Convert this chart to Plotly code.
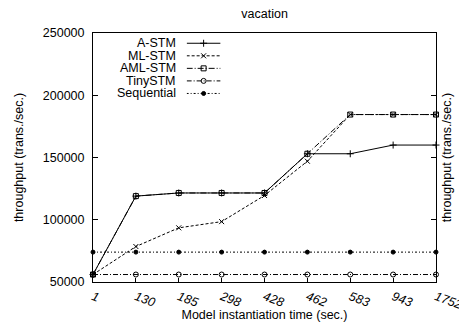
import plotly.graph_objects as go

# Model instantiation times (categorical x positions)
categories = ["1", "130", "185", "298", "428", "462", "583", "943", "1752"]

# Throughput (trans./sec.) per configuration
a_stm = [56000, 119000, 121500, 121500, 121500, 153000, 153000, 160000, 160000]
ml_stm = [56000, 78500, 93500, 98500, 119500, 147000, 184500, 184500, 184500]
aml_stm = [56000, 119000, 121500, 121500, 121500, 153000, 184500, 184500, 184500]
tiny_stm = [56000, 56000, 56000, 56000, 56000, 56000, 56000, 56000, 56000]
sequential = [74000, 74000, 74000, 74000, 74000, 74000, 74000, 74000, 74000]

series_names = ["A-STM", "ML-STM", "AML-STM", "TinySTM", "Sequential"]
series_values = [a_stm, ml_stm, aml_stm, tiny_stm, sequential]

FONT = "Liberation Sans, Arial, Helvetica, sans-serif"
INK = "#000000"
FS = 12.5

styles = [
    dict(dash="solid", symbol="cross-thin-open", size=5),
    dict(dash="3px,2px", symbol="x-thin-open", size=5),
    dict(dash="6px,2px,1px,2px", symbol="square-open", size=5),
    dict(dash="5px,2px,1px,2px", symbol="circle-open", size=5),
    dict(dash="2px,2px,1px,2px", symbol="circle", size=4),
]

fig = go.Figure()

for name, vals, st in zip(series_names, series_values, styles):
    fig.add_trace(go.Scatter(
        x=categories, y=vals, name=name, mode="lines+markers",
        line=dict(color=INK, width=1, dash=st["dash"]),
        marker=dict(symbol=st["symbol"], size=st["size"], color=INK,
                    line=dict(color=INK, width=1)),
        showlegend=False, cliponaxis=False,
    ))

# Key: sample segments drawn on a small auxiliary axis pair, labels to their left
for row, (name, st) in enumerate(zip(series_names, styles)):
    fig.add_trace(go.Scatter(
        x=[0, 1], y=[row, row], mode="lines", xaxis="x3", yaxis="y3",
        line=dict(color=INK, width=1, dash=st["dash"]),
        showlegend=False, hoverinfo="skip",
    ))
    fig.add_trace(go.Scatter(
        x=[0.5], y=[row], mode="markers", xaxis="x3", yaxis="y3",
        marker=dict(symbol=st["symbol"], size=st["size"], color=INK,
                    line=dict(color=INK, width=1)),
        showlegend=False, hoverinfo="skip",
    ))
    fig.add_annotation(
        x=0.248, xref="paper", y=row, yref="y3", text=name,
        xanchor="right", yanchor="middle", showarrow=False,
        font=dict(family=FONT, size=FS, color=INK),
    )

fig.update_layout(
    width=459, height=322,
    margin=dict(l=93, r=23, t=33, b=40, autoexpand=False),
    paper_bgcolor="white", plot_bgcolor="white",
    font=dict(family=FONT, size=FS, color=INK),
    title=dict(text="vacation", x=0.5764, xanchor="center", y=0.957,
               yanchor="middle", font=dict(family=FONT, size=FS, color=INK)),
    xaxis=dict(
        type="category", categoryorder="array", categoryarray=categories,
        range=[0, len(categories) - 1], automargin=False,
        showline=True, linecolor=INK, linewidth=1, mirror=True,
        ticks="inside", ticklen=4, tickcolor=INK, showgrid=False,
        tickangle=20, ticklabelstandoff=2,
        tickfont=dict(family=FONT, size=FS, color=INK, style="italic"),
        title=dict(text="Model instantiation time (sec.)", standoff=6,
                   font=dict(family=FONT, size=FS, color=INK)),
        zeroline=False,
    ),
    yaxis=dict(
        range=[50000, 250000], dtick=50000, tickformat="d", automargin=False,
        showline=True, linecolor=INK, linewidth=1, mirror="ticks",
        ticks="inside", ticklen=5, tickcolor=INK, showgrid=False,
        ticklabelstandoff=5, zeroline=False,
        tickfont=dict(family=FONT, size=FS, color=INK),
        title=dict(text="throughput (trans./sec.)", standoff=16,
                   font=dict(family=FONT, size=FS, color=INK)),
    ),
    yaxis2=dict(
        overlaying="y", side="right", range=[50000, 250000], automargin=False,
        showticklabels=False, ticks="", showgrid=False, zeroline=False,
        showline=False,
        title=dict(text="throughput (trans./sec.)", standoff=6,
                   font=dict(family=FONT, size=FS, color=INK)),
    ),
    xaxis3=dict(domain=[0.273, 0.372], range=[0, 1], visible=False,
                fixedrange=True, automargin=False),
    yaxis3=dict(domain=[0.732, 0.984], range=[4.5, -0.5], visible=False,
                fixedrange=True, automargin=False),
)

# invisible anchor so the right-hand axis title is drawn
fig.add_trace(go.Scatter(x=[categories[0]], y=[None], yaxis="y2",
                         showlegend=False, hoverinfo="skip"))

fig.write_html("out.html")
